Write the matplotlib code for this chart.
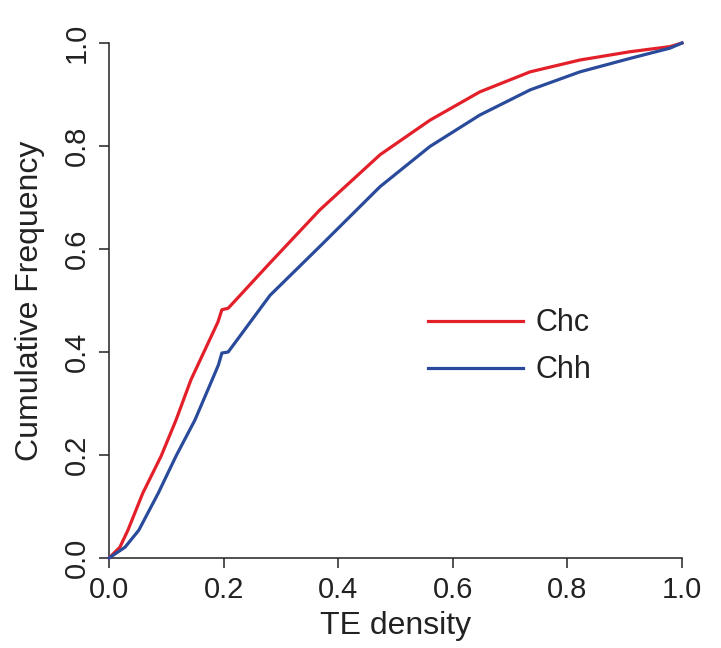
import matplotlib
matplotlib.use("Agg")
import matplotlib.pyplot as plt

# Data
chc_x = [0, 0.019, 0.033, 0.059, 0.091, 0.117, 0.143, 0.19, 0.197, 0.208,
         0.281, 0.368, 0.473, 0.56, 0.647, 0.735, 0.822, 0.909, 0.979, 1.0]
chc_y = [0, 0.021, 0.054, 0.126, 0.198, 0.268, 0.346, 0.458, 0.482, 0.485,
         0.573, 0.676, 0.783, 0.850, 0.905, 0.944, 0.967, 0.983, 0.993, 1.0]

chh_x = [0, 0.028, 0.052, 0.086, 0.117, 0.150, 0.18, 0.191, 0.197, 0.208,
         0.281, 0.368, 0.473, 0.56, 0.647, 0.735, 0.822, 0.909, 0.979, 1.0]
chh_y = [0, 0.021, 0.054, 0.126, 0.198, 0.268, 0.346, 0.375, 0.398, 0.40,
         0.51, 0.605, 0.721, 0.799, 0.860, 0.909, 0.944, 0.970, 0.990, 1.0]

ticks = [0.0, 0.2, 0.4, 0.6, 0.8, 1.0]
tick_labels = ["0.0", "0.2", "0.4", "0.6", "0.8", "1.0"]

plt.rcParams['font.family'] = ['Liberation Sans', 'DejaVu Sans']

fig = plt.figure(figsize=(7.21, 6.48), dpi=100)
ax = fig.add_axes([109/721, 1-558/648, (682-109)/721, (558-43)/648])

ax.plot(chc_x, chc_y, color='#E3202A', lw=2.3, label='Chc', clip_on=False, zorder=3,
        solid_joinstyle='round')
ax.plot(chh_x, chh_y, color='#2A4B9B', lw=2.3, label='Chh', clip_on=False, zorder=3,
        solid_joinstyle='round')

ax.set_xlim(0, 1)
ax.set_ylim(0, 1)
for s in ['top', 'right']:
    ax.spines[s].set_visible(False)
for s in ['left', 'bottom']:
    ax.spines[s].set_linewidth(1.1)
    ax.spines[s].set_color('#222222')

ax.set_xticks(ticks)
ax.set_xticklabels(tick_labels)
ax.set_yticks(ticks)
ax.set_yticklabels(tick_labels, rotation=90, va='center')
ax.tick_params(axis='both', direction='out', length=7, width=1.1, color='#222222',
               labelsize=21, labelcolor='#222222', pad=6)

ax.set_xlabel('TE density', fontsize=23, color='#222222', labelpad=5)
ax.set_ylabel('Cumulative Frequency', fontsize=23, color='#222222', labelpad=13)

leg = ax.legend(loc='center left', bbox_to_anchor=(0.557, 0.41), frameon=False,
                fontsize=22, handlelength=3.1, handletextpad=0.42, labelspacing=0.55,
                borderaxespad=0, borderpad=0)
for t in leg.get_texts():
    t.set_color('#222222')

fig.savefig('out.png', dpi=100)
